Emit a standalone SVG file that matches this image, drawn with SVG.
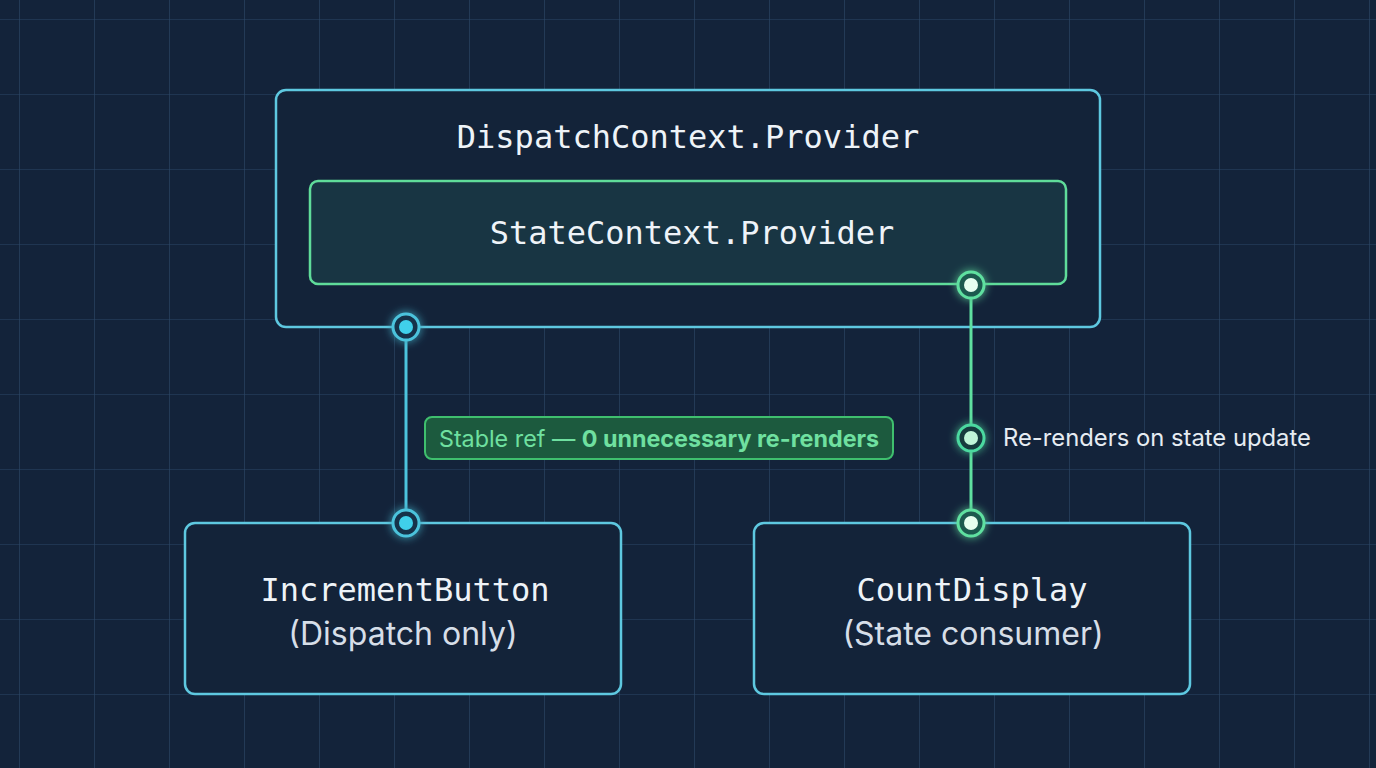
<svg xmlns="http://www.w3.org/2000/svg" width="1376" height="768" viewBox="0 0 1376 768">
<defs>
<pattern id="grid" width="75" height="75" patternUnits="userSpaceOnUse" x="20" y="20">
<path d="M75 0V75M0 75H75" fill="none" stroke="#2c4868" stroke-width="1.2"/>
</pattern>
<filter id="glow" x="-50%" y="-50%" width="200%" height="200%"><feGaussianBlur stdDeviation="4" result="b"/><feMerge><feMergeNode in="b"/><feMergeNode in="SourceGraphic"/></feMerge></filter>
<style>
.box{fill:#132339;stroke:#5ec8e0;stroke-width:2.5}
.mono{font-family:"DejaVu Sans Mono",monospace;font-size:32px;fill:#eef3f8;text-anchor:middle}
.sans{font-family:Inter,"Noto Sans",sans-serif;font-size:32px;fill:#d6dee8;text-anchor:middle}
.cl{stroke:#4cc3dc;stroke-width:3;fill:none}
.gl{stroke:#5fe0a0;stroke-width:3;fill:none}
</style>
</defs>
<rect width="1376" height="768" fill="#13233a"/>
<rect width="1376" height="768" fill="url(#grid)"/>
<g id="dispatch-provider">
<rect class="box" x="276" y="90" width="824" height="237" rx="10"/>
<text class="mono" x="688" y="148">DispatchContext.Provider</text>
</g>
<g id="state-provider">
<rect x="310" y="181" width="756" height="103" rx="8" fill="#183543" stroke="#5fdc9a" stroke-width="2.5"/>
<text class="mono" x="692" y="244">StateContext.Provider</text>
</g>
<g id="increment-button">
<rect class="box" x="185" y="523" width="436" height="171" rx="10"/>
<text class="mono" x="405" y="601">IncrementButton</text>
<text class="sans" x="403" y="645">(Dispatch only)</text>
</g>
<g id="count-display">
<rect class="box" x="754" y="523" width="436" height="171" rx="10"/>
<text class="mono" x="972" y="601">CountDisplay</text>
<text class="sans" x="973" y="645">(State consumer)</text>
</g>
<g id="connectors">
<line class="cl" x1="406" y1="327" x2="406" y2="523"/>
<line class="gl" x1="971" y1="285" x2="971" y2="523"/>
<g filter="url(#glow)">
<circle cx="406" cy="327" r="13" fill="#123048" stroke="#4cc3dc" stroke-width="3"/>
<circle cx="406" cy="327" r="7" fill="#3fd0ea"/>
<circle cx="406" cy="523" r="13" fill="#123048" stroke="#4cc3dc" stroke-width="3"/>
<circle cx="406" cy="523" r="7" fill="#3fd0ea"/>
<circle cx="971" cy="285" r="13" fill="#1f5a50" stroke="#5fe0a0" stroke-width="3"/>
<circle cx="971" cy="285" r="7" fill="#e6fff0"/>
<circle cx="971" cy="438" r="13" fill="#123a3e" stroke="#4cd9a0" stroke-width="3"/>
<circle cx="971" cy="438" r="7" fill="#bff5d8"/>
<circle cx="971" cy="523" r="13" fill="#1f5a50" stroke="#5fe0a0" stroke-width="3"/>
<circle cx="971" cy="523" r="7" fill="#e6fff0"/>
</g>
<rect x="425" y="417" width="468" height="42" rx="7" fill="#1c5a3e" stroke="#3fbf6e" stroke-width="2"/>
<text x="659" y="447" font-family="Inter,'Noto Sans',sans-serif" font-size="23.3" fill="#6fe0a0" text-anchor="middle">Stable ref — <tspan font-weight="bold">0 unnecessary re-renders</tspan></text>
<text x="1003" y="446" font-family="Inter,'Noto Sans',sans-serif" font-size="23.8" fill="#e6ecf2">Re-renders on state update</text>
</g>
</svg>
